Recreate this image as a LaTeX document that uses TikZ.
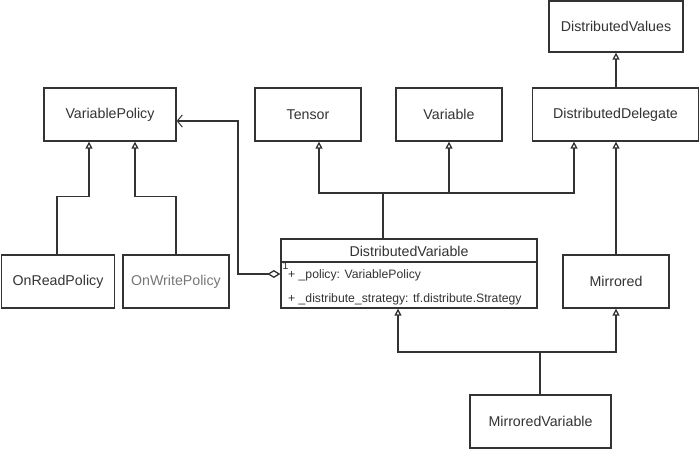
\documentclass[tikz,border=0pt]{standalone}
\usepackage{fontspec}
\setmainfont{Liberation Sans}
\usetikzlibrary{arrows.meta}
\definecolor{ln}{HTML}{333333}
\definecolor{tx}{HTML}{333333}
\definecolor{lt}{HTML}{777777}
\tikzset{
  box/.style={draw=ln, line width=1.3pt, fill=white, text=tx, inner sep=0pt,
    minimum height=53pt, font=\fontsize{14.2}{16}\selectfont},
  inh/.style={draw=ln, line width=1.3pt, -{Triangle[open, length=7pt, width=7pt]}},
  con/.style={draw=ln, line width=1.3pt},
  attr/.style={text=tx, inner sep=0pt, anchor=west, font=\fontsize{12.2}{14}\selectfont},
}
\begin{document}
\begin{tikzpicture}[x=1pt,y=-1pt]
\useasboundingbox (0,0) rectangle (700,449);
% classes
\node[box, minimum width=134pt, minimum height=51pt] (dval) at (616,26.5) {DistributedValues};
\node[box, minimum width=166pt] (dd) at (615.5,114.5) {DistributedDelegate};
\node[box, minimum width=132pt] (vp) at (110,114.5) {VariablePolicy};
\node[box, minimum width=106pt] (tensor) at (308,114.5) {Tensor};
\node[box, minimum width=106pt] (variable) at (449,114.5) {Variable};
\node[box, minimum width=113pt] (onread) at (58,281.5) {OnReadPolicy};
\node[box, minimum width=106pt, text=lt] (onwrite) at (176,281.5) {OnWritePolicy};
\node[box, minimum width=106pt] (mirrored) at (616,281.5) {Mirrored};
\node[box, minimum width=141pt] (mvar) at (540.5,421.5) {MirroredVariable};
% DistributedVariable class box
\node[draw=ln, line width=1.3pt, fill=white, minimum width=256pt, minimum height=69pt, inner sep=0pt] (dv) at (409,273.5) {};
\draw[con] (dv.west |- 0,262) -- (dv.east |- 0,262);
\node[text=tx, inner sep=0pt, font=\fontsize{14.2}{16}\selectfont] (dvname) at (409,251) {DistributedVariable};
\node[attr] (a1) at (288,275) {+ \_policy: VariablePolicy};
\node[attr] (a2) at (288,299) {+ \_distribute\_strategy: tf.distribute.Strategy};
\node[text=tx, inner sep=0pt, anchor=west, font=\fontsize{10.5}{12}\selectfont] (mult) at (282.5,265.5) {1};
% inheritance: policies
\draw[inh] ([xshift=-1pt]onread.north) -- ++(0,-58) -| ([xshift=-21pt]vp.south);
\draw[inh] (onwrite.north) -- ++(0,-58) -| ([xshift=25pt]vp.south);
% inheritance: DistributedVariable
\coordinate (j1) at (383,193);
\draw[con] (dv.north -| j1) -- (j1);
\draw[inh] (j1) -| ([xshift=11pt]tensor.south);
\draw[inh] (j1) -| (variable.south);
\draw[inh] (j1) -| ([xshift=-41.5pt]dd.south);
% Mirrored -> DistributedDelegate -> DistributedValues
\draw[inh] (mirrored.north) -- (mirrored.north |- dd.south);
\draw[inh] (dd.north -| dval.south) -- (dval.south);
% MirroredVariable
\coordinate (j2) at (540,352);
\draw[con] (mvar.north -| j2) -- (j2);
\draw[inh] (j2) -| ([xshift=-11pt]dv.south);
\draw[inh] (j2) -| (mirrored.south);
% aggregation
\coordinate (k1) at (238,274);
\draw[con, {Diamond[open, length=13pt, width=8pt]}-{Straight Barb[length=5pt, width=12pt, line width=1pt]}]
  (dv.west |- k1) -- (k1) |- ([yshift=-6.5pt]vp.east);
\end{tikzpicture}
\end{document}
